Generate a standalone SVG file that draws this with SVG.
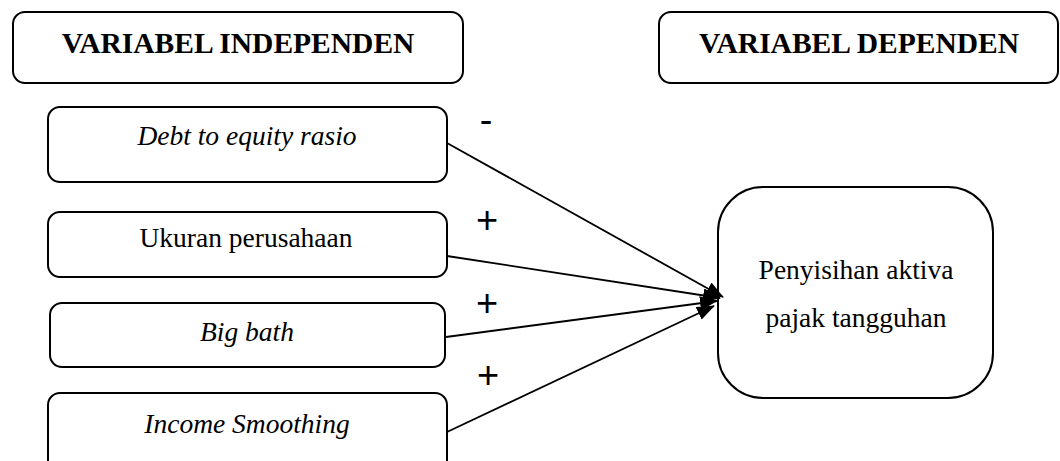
<svg xmlns="http://www.w3.org/2000/svg" width="1060" height="461" viewBox="0 0 1060 461">
<style>
.box{fill:#fff;stroke:#000;stroke-width:2}
.title{font-family:"Liberation Serif",serif;font-weight:bold;font-size:29.5px;text-anchor:middle;fill:#000}
.lbl{font-family:"Liberation Serif",serif;font-size:27.5px;text-anchor:middle;fill:#000}
.it{font-style:italic}
.sign{font-family:"Liberation Sans",sans-serif;font-size:38px;text-anchor:middle;fill:#000}
.edge{stroke:#000;stroke-width:1.8;fill:none;marker-end:url(#ah)}
</style>
<defs>
<marker id="ah" markerUnits="userSpaceOnUse" markerWidth="18" markerHeight="14" refX="17" refY="7" orient="auto">
<path d="M0,0 L18,7 L0,14 Z" fill="#000"/>
</marker>
</defs>
<rect width="1060" height="461" fill="#fff"/>
<g id="title-independen">
<rect class="box" x="13" y="12" width="450" height="71" rx="12"/>
<text class="title" x="238" y="53">VARIABEL INDEPENDEN</text>
</g>
<g id="title-dependen">
<rect class="box" x="659" y="12" width="399" height="71" rx="12"/>
<text class="title" x="859" y="53">VARIABEL DEPENDEN</text>
</g>
<g id="node-der">
<rect class="box" x="48" y="107" width="399" height="75" rx="12"/>
<text class="lbl it" x="247" y="145">Debt to equity rasio</text>
</g>
<g id="node-ukuran">
<rect class="box" x="48" y="212" width="399" height="65" rx="12"/>
<text class="lbl" x="246" y="247">Ukuran perusahaan</text>
</g>
<g id="node-bigbath">
<rect class="box" x="50" y="303" width="395" height="64" rx="12"/>
<text class="lbl it" x="247" y="341">Big bath</text>
</g>
<g id="node-income">
<rect class="box" x="48" y="393" width="399" height="80" rx="12"/>
<text class="lbl it" x="247" y="433">Income Smoothing</text>
</g>
<g id="node-penyisihan">
<rect class="box" x="718" y="187" width="275" height="211" rx="45"/>
<text class="lbl" x="856" y="279">Penyisihan aktiva</text>
<text class="lbl" x="856" y="327">pajak tangguhan</text>
</g>
<g id="connectors">
<line class="edge" x1="447" y1="143" x2="723" y2="297"/>
<line class="edge" x1="447" y1="256" x2="720" y2="298"/>
<line class="edge" x1="446" y1="337" x2="717" y2="301"/>
<line class="edge" x1="447" y1="432" x2="714" y2="306"/>
<text class="sign" x="486" y="133">-</text>
<text class="sign" x="487" y="233">+</text>
<text class="sign" x="487" y="316">+</text>
<text class="sign" x="488" y="388">+</text>
</g>
</svg>
